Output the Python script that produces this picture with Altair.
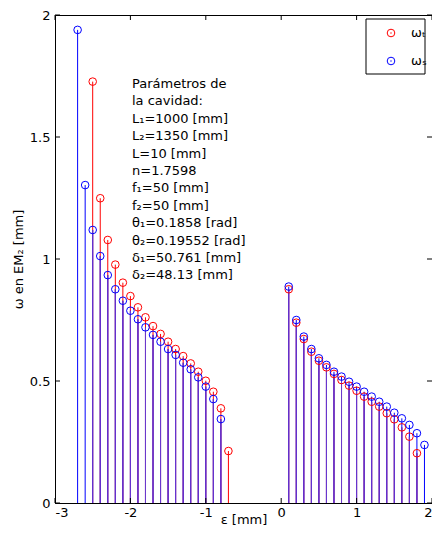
import altair as alt
import pandas as pd

# ---- data ----
X_LEFT_S = [-2.7, -2.6, -2.5, -2.4, -2.3, -2.2, -2.1, -2.0, -1.9, -1.8,
            -1.7, -1.6, -1.5, -1.4, -1.3, -1.2, -1.1, -1.0, -0.9, -0.8]
W_S_LEFT = [1.939, 1.303, 1.119, 1.012, 0.934, 0.876, 0.829, 0.788, 0.753, 0.720,
            0.689, 0.661, 0.631, 0.607, 0.575, 0.548, 0.515, 0.477, 0.426, 0.344]
X_LEFT_T = [-2.5, -2.4, -2.3, -2.2, -2.1, -2.0, -1.9, -1.8, -1.7, -1.6,
            -1.5, -1.4, -1.3, -1.2, -1.1, -1.0, -0.9, -0.8, -0.7]
W_T_LEFT = [1.727, 1.249, 1.078, 0.977, 0.903, 0.848, 0.802, 0.761, 0.725, 0.693,
            0.661, 0.631, 0.602, 0.572, 0.538, 0.501, 0.456, 0.388, 0.213]
X_RIGHT_S = [0.1, 0.2, 0.3, 0.4, 0.5, 0.6, 0.7, 0.8, 0.9, 1.0,
             1.1, 1.2, 1.3, 1.4, 1.5, 1.6, 1.7, 1.8, 1.9]
W_S_RIGHT = [0.887, 0.750, 0.682, 0.631, 0.593, 0.566, 0.538, 0.518, 0.497, 0.477,
             0.456, 0.436, 0.415, 0.395, 0.370, 0.347, 0.320, 0.286, 0.238]
X_RIGHT_T = [0.1, 0.2, 0.3, 0.4, 0.5, 0.6, 0.7, 0.8, 0.9, 1.0,
             1.1, 1.2, 1.3, 1.4, 1.5, 1.6, 1.7, 1.8]
W_T_RIGHT = [0.876, 0.739, 0.672, 0.620, 0.583, 0.556, 0.529, 0.504, 0.481, 0.460,
             0.436, 0.415, 0.395, 0.368, 0.343, 0.310, 0.272, 0.204]

X_TICKS = [-3, -2, -1, 0, 1, 2]
Y_TICKS = [0, 0.5, 1, 1.5, 2]

PARAM_LINES = [
    "Parámetros de",
    "la cavidad:",
    "L₁=1000 [mm]",
    "L₂=1350 [mm]",
    "L=10 [mm]",
    "n=1.7598",
    "f₁=50 [mm]",
    "f₂=50 [mm]",
    "θ₁=0.1858 [rad]",
    "θ₂=0.19552 [rad]",
    "δ₁=50.761 [mm]",
    "δ₂=48.13 [mm]",
]
LEGEND_LABELS = ["ωₜ", "ωₛ"]
X_TITLE = "ε [mm]"
Y_TITLE = "ω en EM₂ [mm]"

RED = "#ff0000"
BLUE = "#0000ff"
PURPLE = "#6e3acb"
FONT = "DejaVu Sans"

W, H = 377, 488

# ---- tables ----
ws = pd.DataFrame({"x": X_LEFT_S + X_RIGHT_S, "y": W_S_LEFT + W_S_RIGHT})
wt = pd.DataFrame({"x": X_LEFT_T + X_RIGHT_T, "y": W_T_LEFT + W_T_RIGHT})
ws["k"] = ws["x"].round(1)
wt["k"] = wt["x"].round(1)
both = ws.merge(wt, on="k", suffixes=("_s", "_t"))
overlap = pd.DataFrame({"x": both["x_s"], "y": both[["y_s", "y_t"]].min(axis=1)})

xt = pd.DataFrame({"x": X_TICKS})
yt = pd.DataFrame({"y": Y_TICKS})
one = pd.DataFrame({"a": [0]})
params = pd.DataFrame({"t": ["\n".join(PARAM_LINES)]})

xs = alt.Scale(domain=[-3, 2], nice=False, zero=False)
ys = alt.Scale(domain=[0, 2], nice=False, zero=False)
xaxis = alt.Axis(values=X_TICKS, title=X_TITLE, labelExpr="'' + datum.value",
                 grid=False, ticks=False, tickSize=0, labelPadding=3,
                 titlePadding=-6)
yaxis = alt.Axis(values=Y_TICKS, title=Y_TITLE, labelExpr="'' + datum.value",
                 grid=False, ticks=False, tickSize=0, labelPadding=5,
                 titlePadding=4)
X = alt.X("x:Q", scale=xs, axis=xaxis)
Y = alt.Y("y:Q", scale=ys, axis=yaxis)


def stems(df, color):
    return alt.Chart(df).mark_rule(color=color, strokeWidth=1).encode(
        x=X, y=Y, y2=alt.datum(0))


def circles(df, color):
    return alt.Chart(df).mark_point(shape="circle", filled=False, size=58,
                                    strokeWidth=1, color=color, opacity=1).encode(x=X, y=Y)


red_st = stems(wt, RED)
blue_st = stems(ws, BLUE)
pur_st = stems(overlap, PURPLE)
red_pt = circles(wt, RED)
blue_pt = circles(ws, BLUE)

# inside ticks (box style)
tb = alt.Chart(xt).mark_rule(color="black").encode(x=X, y=alt.value(H), y2=alt.value(H - 5))
tt = alt.Chart(xt).mark_rule(color="black").encode(x=X, y=alt.value(0), y2=alt.value(5))
tl = alt.Chart(yt).mark_rule(color="black").encode(y=Y, x=alt.value(0), x2=alt.value(5))
tr = alt.Chart(yt).mark_rule(color="black").encode(y=Y, x=alt.value(W - 5), x2=alt.value(W))

text = alt.Chart(params).mark_text(align="left", baseline="alphabetic", lineBreak="\n",
                                   lineHeight=17.4, fontSize=13, font=FONT,
                                   color="black").encode(
    x=alt.value(77), y=alt.value(73), text="t:N")

# legend
LX0, LX1, LC, LT = 311, 370, 336, 356
box = alt.Chart(one).mark_rect(fill="white", stroke="black", strokeWidth=1).encode(
    x=alt.value(LX0), x2=alt.value(LX1), y=alt.value(4), y2=alt.value(59))
lg_r = alt.Chart(one).mark_point(shape="circle", filled=False, size=58, strokeWidth=1,
                                 color=RED, opacity=1).encode(x=alt.value(LC), y=alt.value(18))
lg_b = alt.Chart(one).mark_point(shape="circle", filled=False, size=58, strokeWidth=1,
                                 color=BLUE, opacity=1).encode(x=alt.value(LC), y=alt.value(46))
lg_rd = alt.Chart(one).mark_point(shape="circle", filled=True, size=2,
                                  color=RED, opacity=1).encode(x=alt.value(LC), y=alt.value(18))
lg_bd = alt.Chart(one).mark_point(shape="circle", filled=True, size=2,
                                  color=BLUE, opacity=1).encode(x=alt.value(LC), y=alt.value(46))
lg_rt = alt.Chart(pd.DataFrame({"t": [LEGEND_LABELS[0]]})).mark_text(
    align="left", baseline="middle", fontSize=13, font=FONT, color="black").encode(
    x=alt.value(LT), y=alt.value(18), text="t:N")
lg_bt = alt.Chart(pd.DataFrame({"t": [LEGEND_LABELS[1]]})).mark_text(
    align="left", baseline="middle", fontSize=13, font=FONT, color="black").encode(
    x=alt.value(LT), y=alt.value(46), text="t:N")

chart = alt.layer(
    red_st, blue_st, pur_st, red_pt, blue_pt,
    tb, tt, tl, tr, text,
    box, lg_r, lg_b, lg_rd, lg_bd, lg_rt, lg_bt,
).properties(
    width=W, height=H,
    padding={"left": 47, "top": 7, "right": 0, "bottom": 23},
    autosize=alt.AutoSizeParams(type="none"),
).configure_view(
    stroke="black", strokeWidth=1
).configure_axis(
    domainColor="black", labelColor="black", titleColor="black",
    labelFont=FONT, titleFont=FONT, labelFontSize=13, titleFontSize=13,
    titleFontWeight="normal",
)

chart.save("out.html", embed_options={"renderer": "svg", "actions": False})
